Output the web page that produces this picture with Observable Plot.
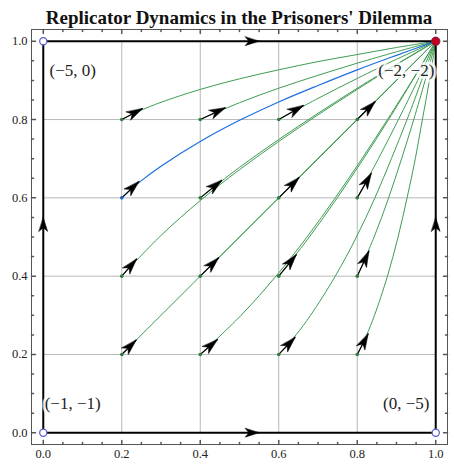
<!DOCTYPE html>
<html><head><meta charset="utf-8">
<script src="https://cdn.jsdelivr.net/npm/d3@7"></script>
<script src="https://cdn.jsdelivr.net/npm/@observablehq/plot@0.6"></script>
<style>
body{margin:0;background:#fff;}
#wrap{position:relative;width:454px;height:466px;}
#title{position:absolute;top:8px;left:24px;right:0;text-align:center;font:bold 19px/19px "Liberation Serif",serif;color:#111;white-space:nowrap;}
</style></head><body>
<div id="wrap"><div id="chart"></div><div id="title">Replicator Dynamics in the Prisoners' Dilemma</div></div>
<script>
// ---- data ----
const gridTicks = [0.2, 0.4, 0.6, 0.8];
const majorTicks = [0, 0.2, 0.4, 0.6, 0.8, 1.0];
const minorTicks = [0.05, 0.1, 0.15, 0.25, 0.3, 0.35, 0.45, 0.5, 0.55, 0.65, 0.7, 0.75, 0.85, 0.9, 0.95];

const curve_2_2 = [[0.2,0.2],[1,1]];
const curve_2_4 = [[0.2,0.4],[0.3,0.504],[0.4,0.593],[0.5,0.672],[0.6,0.744],[0.7,0.812],[0.8,0.877],[0.9,0.940],[0.95,0.970],[1,1]];
const curve_2_6 = [[0.2,0.6],[0.25,0.644],[0.3,0.681],[0.4,0.744],[0.5,0.798],[0.6,0.845],[0.7,0.887],[0.8,0.927],[0.9,0.964],[0.95,0.982],[1,1]];
const curve_2_8 = [[0.2,0.8],[0.25,0.824],[0.3,0.844],[0.4,0.877],[0.5,0.904],[0.6,0.927],[0.7,0.948],[0.8,0.966],[0.9,0.984],[1,1]];
const curve_4_2 = [[0.4,0.2],[0.504,0.3],[0.593,0.4],[0.672,0.5],[0.744,0.6],[0.812,0.7],[0.877,0.8],[0.940,0.9],[0.970,0.95],[1,1]];
const curve_4_4 = [[0.4,0.4],[1,1]];
const curve_4_6 = [[0.4,0.6],[0.5,0.678],[0.6,0.749],[0.7,0.816],[0.8,0.880],[0.9,0.941],[0.95,0.971],[1,1]];
const curve_4_8 = [[0.4,0.8],[0.5,0.843],[0.6,0.880],[0.7,0.913],[0.8,0.944],[0.9,0.973],[0.95,0.987],[1,1]];
const curve_6_2 = [[0.6,0.2],[0.644,0.25],[0.681,0.3],[0.744,0.4],[0.798,0.5],[0.845,0.6],[0.887,0.7],[0.927,0.8],[0.964,0.9],[0.982,0.95],[1,1]];
const curve_6_4 = [[0.6,0.4],[0.678,0.5],[0.749,0.6],[0.816,0.7],[0.880,0.8],[0.941,0.9],[0.971,0.95],[1,1]];
const curve_6_6 = [[0.6,0.6],[1,1]];
const curve_6_8 = [[0.6,0.8],[0.7,0.854],[0.8,0.905],[0.9,0.954],[0.95,0.977],[1,1]];
const curve_8_2 = [[0.8,0.2],[0.824,0.25],[0.844,0.3],[0.877,0.4],[0.904,0.5],[0.927,0.6],[0.948,0.7],[0.966,0.8],[0.984,0.9],[1,1]];
const curve_8_4 = [[0.8,0.4],[0.843,0.5],[0.880,0.6],[0.913,0.7],[0.944,0.8],[0.973,0.9],[0.987,0.95],[1,1]];
const curve_8_6 = [[0.8,0.6],[0.854,0.7],[0.905,0.8],[0.954,0.9],[0.977,0.95],[1,1]];
const curve_8_8 = [[0.8,0.8],[1,1]];

const greenCurves = [curve_2_2, curve_2_4, curve_2_8, curve_4_2, curve_4_4, curve_4_6, curve_4_8,
  curve_6_2, curve_6_4, curve_6_6, curve_6_8, curve_8_2, curve_8_4, curve_8_6, curve_8_8];
const blueCurves = [curve_2_6];

const startX = [0.2,0.2,0.2,0.2, 0.4,0.4,0.4,0.4, 0.6,0.6,0.6,0.6, 0.8,0.8,0.8,0.8];
const startY = [0.2,0.4,0.6,0.8, 0.2,0.4,0.6,0.8, 0.2,0.4,0.6,0.8, 0.2,0.4,0.6,0.8];
const tipX = [0.237,0.238,0.244,0.253, 0.444,0.447,0.455,0.464, 0.642,0.645,0.652,0.663, 0.828,0.830,0.836,0.846];
const tipY = [0.237,0.444,0.642,0.828, 0.238,0.447,0.645,0.830, 0.244,0.455,0.652,0.836, 0.253,0.464,0.663,0.846];
const blueStart = 2;

const edgeArrowX = [0.55, 0.55, 0, 1];
const edgeArrowY = [1, 0, 0.55, 0.55];
const edgeArrowDir = [90, 90, 0, 0];

const openX = [0, 0, 1];
const openY = [0, 1, 0];
const stableX = [1];
const stableY = [1];

const labelText = ["(\u22125, 0)", "(\u22122, \u22122)", "(\u22121, \u22121)", "(0, \u22125)"];
const labelX = [0.075, 0.925, 0.075, 0.925];
const labelY = [0.925, 0.925, 0.074, 0.074];

// ---- styles ----
const green = "#3f9c52", blue = "#1b6fe0", frameColor = "#555";

const head = {draw(ctx, l, r) {
  ctx.moveTo(0, -l); ctx.lineTo(r, 0); ctx.lineTo(0, -0.27 * l); ctx.lineTo(-r, 0); ctx.closePath();
}};
const stem = {draw(ctx, l) { ctx.moveTo(0, 0); ctx.lineTo(0, -l); }};

const toRows = (cs) => cs.flatMap((c, i) => c.map(([x, y]) => ({x, y, id: i})));
const idx = startX.map((_, i) => i);
const rot = idx.map(i => Math.atan2(tipX[i] - startX[i], tipY[i] - startY[i]) * 180 / Math.PI);

const tickMarks = (ticks, len) => [
  Plot.vector(ticks, {x: d => d, frameAnchor: "bottom", rotate: 0, length: len, anchor: "start", shape: stem, stroke: frameColor}),
  Plot.vector(ticks, {x: d => d, frameAnchor: "top", rotate: 180, length: len, anchor: "start", shape: stem, stroke: frameColor}),
  Plot.vector(ticks, {y: d => d, frameAnchor: "left", rotate: 90, length: len, anchor: "start", shape: stem, stroke: frameColor}),
  Plot.vector(ticks, {y: d => d, frameAnchor: "right", rotate: 270, length: len, anchor: "start", shape: stem, stroke: frameColor})
];

const chart = Plot.plot({
  width: 454, height: 466,
  marginLeft: 31, marginRight: 7, marginTop: 29, marginBottom: 22,
  x: {domain: [-0.03, 1.03], axis: null},
  y: {domain: [-0.03, 1.03], axis: null},
  style: {fontFamily: '"Liberation Serif", serif', background: "transparent", overflow: "visible"},
  marks: [
    Plot.ruleX(gridTicks, {y1: 0, y2: 1, stroke: "#b8b8b8", strokeWidth: 1}),
    Plot.ruleY(gridTicks, {x1: 0, x2: 1, stroke: "#b8b8b8", strokeWidth: 1}),
    Plot.line(toRows(greenCurves), {x: "x", y: "y", z: "id", stroke: green, strokeWidth: 1, curve: "catmull-rom"}),
    Plot.line(toRows(blueCurves), {x: "x", y: "y", z: "id", stroke: blue, strokeWidth: 1.2, curve: "catmull-rom"}),
    Plot.ruleX([0, 1], {y1: 0, y2: 1, stroke: "black", strokeWidth: 2}),
    Plot.ruleY([0, 1], {x1: 0, x2: 1, stroke: "black", strokeWidth: 2}),
    Plot.vector(edgeArrowX.map((_, i) => i), {x: i => edgeArrowX[i], y: i => edgeArrowY[i], rotate: i => edgeArrowDir[i], length: 14, r: 4.4, anchor: "end", shape: head, fill: "black", stroke: "black", strokeWidth: 0.5}),
    Plot.link(idx, {x1: i => startX[i], y1: i => startY[i], x2: i => tipX[i], y2: i => tipY[i], stroke: "black", strokeWidth: 1.2}),
    Plot.vector(idx, {x: i => tipX[i], y: i => tipY[i], rotate: i => rot[i], length: 16, r: 4.7, anchor: "end", shape: head, fill: "black", stroke: "black", strokeWidth: 0.5}),
    Plot.dot(idx.filter(i => i !== blueStart), {x: i => startX[i], y: i => startY[i], r: 1.8, fill: "#2f7a3d", stroke: null}),
    Plot.dot([blueStart], {x: i => startX[i], y: i => startY[i], r: 1.8, fill: "#1a5fcc", stroke: null}),
    Plot.dot(openX.map((_, i) => i), {x: i => openX[i], y: i => openY[i], r: 3.6, fill: "white", stroke: "#5a5ad0", strokeWidth: 1.2}),
    Plot.dot(stableX.map((_, i) => i), {x: i => stableX[i], y: i => stableY[i], r: 4.2, fill: "#c4001c", stroke: "#7a2050", strokeWidth: 1}),
    Plot.text(labelText.map((_, i) => i), {x: i => labelX[i], y: i => labelY[i], text: i => labelText[i], fontSize: 17, fill: "#222", stroke: "white", strokeOpacity: 0.75, strokeWidth: 6}),
    Plot.frame({stroke: frameColor, strokeWidth: 1}),
    ...tickMarks(majorTicks, 4),
    ...tickMarks(minorTicks, 2),
    Plot.axisX(majorTicks, {anchor: "bottom", tickSize: 0, tickPadding: 5, tickFormat: ".1f", fontSize: 12.5, fill: "#222", label: null}),
    Plot.axisY(majorTicks, {anchor: "left", tickSize: 0, tickPadding: 4, tickFormat: ".1f", fontSize: 12.5, fill: "#222", label: null})
  ]
});
document.getElementById("chart").appendChild(chart);
</script>
</body></html>
